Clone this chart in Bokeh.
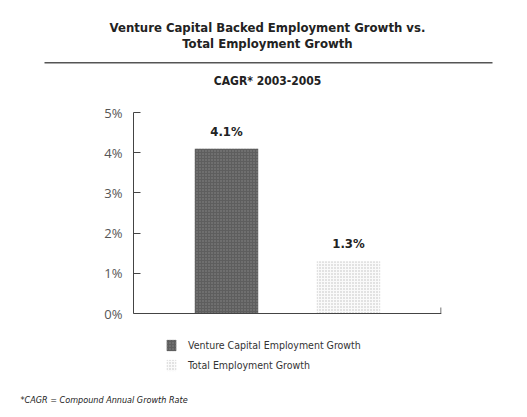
from bokeh.plotting import figure
from bokeh.layouts import column
from bokeh.models import (ColumnDataSource, FactorRange, Range1d, Legend,
                          LegendItem, BoxAnnotation, FixedTicker, PrintfTickFormatter)
from bokeh.core.properties import value
from bokeh.embed import file_html
from bokeh.resources import INLINE

# ---- data ----
categories = ["Venture Capital Employment Growth", "Total Employment Growth"]
cagr_values = [4.1, 1.3]
bar_labels = ["4.1%", "1.3%"]
y_ticks = [0, 1, 2, 3, 4, 5]
title_lines = ["Venture Capital Backed Employment Growth vs.", "Total Employment Growth"]
subtitle = "CAGR* 2003-2005"
footnote = "*CAGR = Compound Annual Growth Rate"

COND = "Liberation Sans Narrow, DejaVu Sans Condensed, sans-serif"
REG = "Open Sans"
W = 527
HEAD_H, MAIN_H, FOOT_H = 95, 287, 35
PX_PER_PCT = 40.2


def bare(fig):
    fig.axis.visible = False
    fig.grid.visible = False
    fig.outline_line_color = None
    fig.background_fill_color = "white"
    fig.border_fill_color = "white"
    return fig


# ---- header ----
head = bare(figure(width=W, height=HEAD_H, x_range=Range1d(0, W), y_range=Range1d(HEAD_H, 0),
                   output_backend="svg", toolbar_location=None, min_border=0,
                   frame_align=False))
head.text(x=[267, 267], y=[27, 43], text=title_lines, text_align="center",
          text_baseline="middle", text_font=value(COND), text_font_style="bold",
          text_font_size="13px", text_color="#222")
head.add_layout(BoxAnnotation(left=44, right=492, top=61.5, bottom=63,
                              fill_color="#555", fill_alpha=1, line_color=None))
head.text(x=[267], y=[80], text=[subtitle], text_align="center",
          text_baseline="middle", text_font=value(COND), text_font_style="bold",
          text_font_size="12px", text_color="#222")

# ---- main chart ----
top_pad = 17
y_end = 5 + top_pad / PX_PER_PCT
y_start = 5 - (MAIN_H - top_pad) / PX_PER_PCT
p = figure(width=W, height=MAIN_H,
           x_range=FactorRange(factors=categories, range_padding=0.2625,
                               range_padding_units="absolute"),
           y_range=Range1d(y_start, y_end),
           output_backend="svg", toolbar_location=None,
           min_border_left=133, min_border_right=86,
           min_border_top=0, min_border_bottom=0, frame_align=False)
p.background_fill_color = "white"
p.border_fill_color = "white"
p.outline_line_color = None
p.xgrid.grid_line_color = None
p.ygrid.grid_line_color = None
p.xaxis.visible = False

styles = [
    dict(fill_color="#5e5e5e", hatch_pattern=".", hatch_color="#8a8a8a", hatch_scale=3),
    dict(fill_color="#fafafa", hatch_pattern=".", hatch_color="#bdbdbd", hatch_scale=3),
]
renderers = []
for cat, val, st in zip(categories, cagr_values, styles):
    src = ColumnDataSource(dict(x=[cat], top=[val]))
    r = p.vbar(x="x", top="top", bottom=0, width=0.52, source=src, line_color=None, **st)
    renderers.append(r)

lab_src = ColumnDataSource(dict(x=categories, y=cagr_values, t=bar_labels))
p.text(x="x", y="y", text="t", source=lab_src, text_align="center",
       text_baseline="bottom", y_offset=-10, text_font=value(COND),
       text_font_style="bold", text_font_size="13px", text_color="#222")

# y axis
p.yaxis.bounds = (0, 5)
p.yaxis.ticker = FixedTicker(ticks=y_ticks)
p.yaxis.formatter = PrintfTickFormatter(format="%d%%")
p.yaxis.major_tick_in = 7
p.yaxis.major_tick_out = 0
p.yaxis.minor_tick_line_color = None
p.yaxis.major_label_standoff = 11
p.yaxis.major_label_text_font = REG
p.yaxis.major_label_text_font_size = "13px"
p.yaxis.major_label_text_color = "#555"
p.yaxis.axis_line_color = "#444"
p.yaxis.major_tick_line_color = "#444"

# baseline (x axis line) and its right-end tick
px = 1 / PX_PER_PCT
p.add_layout(BoxAnnotation(bottom=-0.6 * px, top=0.6 * px,
                           fill_color="#444", fill_alpha=1, line_color=None))
p.add_layout(BoxAnnotation(left=307, right=308, bottom=0, top=6 * px,
                           left_units="screen", right_units="screen",
                           fill_color="#444", fill_alpha=1, line_color=None))

# legend
legend = Legend(items=[LegendItem(label=c, renderers=[r]) for c, r in zip(categories, renderers)],
                location=(32, 10), padding=0, margin=0, spacing=6,
                glyph_width=12, glyph_height=14, label_height=14, label_standoff=11,
                label_text_font=COND, label_text_font_size="10.5px",
                label_text_color="#333", border_line_color=None,
                background_fill_alpha=0)
p.add_layout(legend)

# ---- footer ----
foot = bare(figure(width=W, height=FOOT_H, x_range=Range1d(0, W), y_range=Range1d(FOOT_H, 0),
                   output_backend="svg", toolbar_location=None, min_border=0,
                   frame_align=False))
foot.text(x=[20], y=[17], text=[footnote], text_align="left", text_baseline="middle",
          text_font=value(COND), text_font_style="italic", text_font_size="9px",
          text_color="#222")

layout = column(head, p, foot, spacing=0)
open("out.html", "w").write(file_html(layout, INLINE))
